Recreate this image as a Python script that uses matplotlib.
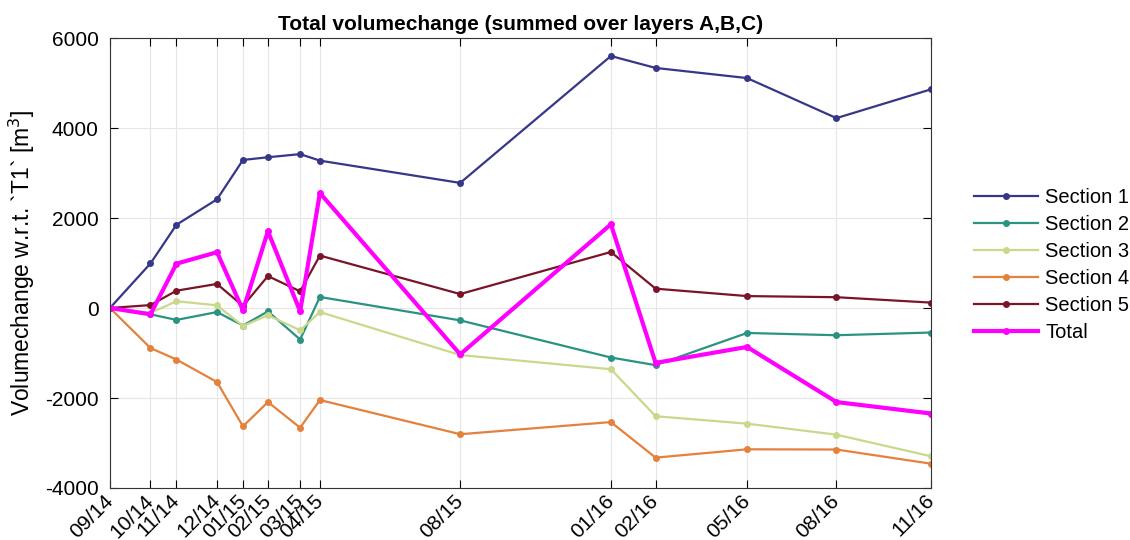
import pandas as pd
import matplotlib
matplotlib.use("Agg")
import matplotlib.pyplot as plt
import matplotlib.dates as mdates

plt.rcParams['font.family'] = ['Liberation Sans', 'DejaVu Sans']
plt.rcParams['axes.unicode_minus'] = False

# survey dates
dates = ["2014-09-16", "2014-10-25", "2014-11-19", "2014-12-28", "2015-01-22",
         "2015-02-15", "2015-03-18", "2015-04-06", "2015-08-19", "2016-01-11",
         "2016-02-23", "2016-05-21", "2016-08-15", "2016-11-14"]

section1 = [0, 990, 1850, 2415, 3290, 3350, 3420, 3275, 2780, 5600, 5335, 5110, 4220, 4860]
section2 = [0, -140, -265, -90, -390, -75, -700, 245, -275, -1100, -1270, -555, -605, -545]
section3 = [0, -110, 150, 60, -400, -160, -495, -90, -1045, -1360, -2405, -2570, -2815, -3295]
section4 = [0, -890, -1145, -1645, -2630, -2090, -2660, -2045, -2805, -2535, -3325, -3140, -3145, -3460]
section5 = [0, 65, 385, 535, 45, 710, 370, 1165, 310, 1245, 430, 265, 240, 120]
total = [0, -140, 985, 1240, -50, 1705, -75, 2555, -1030, 1860, -1220, -865, -2090, -2345]

names = ["Section 1", "Section 2", "Section 3", "Section 4", "Section 5", "Total"]
colors = ["#37378a", "#2a9382", "#c9d98c", "#e4813c", "#7b1429", "#ff00ff"]

X = pd.to_datetime(dates)
series = [section1, section2, section3, section4, section5, total]

fig = plt.figure(figsize=(11.3, 5.4), dpi=100)
ax = fig.add_axes([0.0973, 0.0963, 0.7266, 0.8333])

for Y, name, c in zip(series, names, colors):
    lw = 3 if name == "Total" else 1.6
    ax.plot(X, Y, marker='o', markersize=4, color=c, linewidth=lw, label=name)

ax.set_xlim(X[0], X[-1])
ax.set_ylim(-4000, 6000)
ax.set_yticks([-4000, -2000, 0, 2000, 4000, 6000])
ax.set_xticks(X)
ax.xaxis.set_major_formatter(mdates.DateFormatter('%m/%y'))
plt.setp(ax.get_xticklabels(), rotation=45, ha='right', va='center', rotation_mode='anchor')

ax.tick_params(direction='in', top=True, right=True, labelsize=15, length=6, width=0.8)
ax.tick_params(axis='y', pad=8)
ax.tick_params(axis='x', pad=7)
ax.grid(True, color='#e6e6e6', linewidth=0.8)
for s in ax.spines.values():
    s.set_color('#333333')
    s.set_linewidth(0.8)

ax.set_title("Total volumechange (summed over layers A,B,C)", fontsize=15, fontweight='bold', pad=6)
ax.set_ylabel("Volumechange w.r.t. `T1` [m$^3$]", fontsize=16.5, labelpad=6)

ax.legend(loc='center left', bbox_to_anchor=(1.03, 0.495), frameon=False, fontsize=14.5,
          handlelength=3.2, labelspacing=0.4, handletextpad=0.35)

fig.savefig("out.png", dpi=100)
